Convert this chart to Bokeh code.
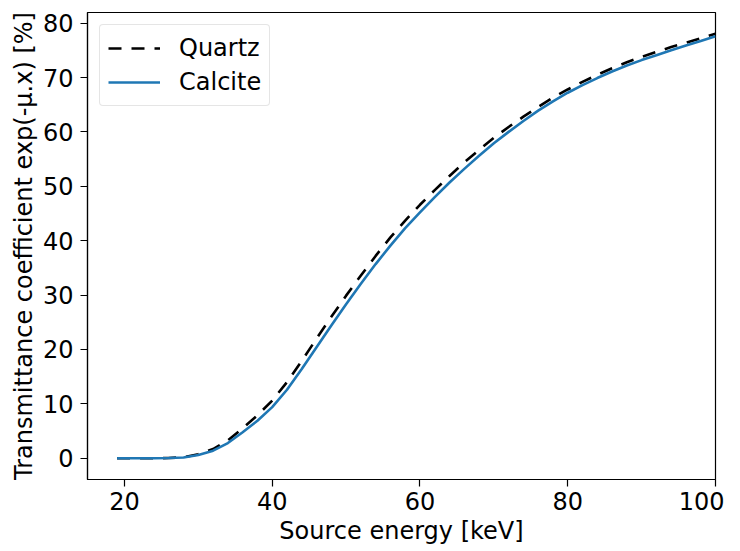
from bokeh.plotting import figure
from bokeh.models import FixedTicker, Range1d, Legend, LegendItem
from bokeh.embed import file_html
from bokeh.resources import INLINE

energy = [19, 20, 22, 24, 26, 28, 30, 32, 34, 36, 38, 40, 42, 44, 46, 48, 50, 52, 54, 56, 58, 60,
          62, 64, 66, 68, 70, 72, 74, 76, 78, 80, 82, 84, 86, 88, 90, 92, 94, 96, 98, 100]
calcite = [0.0, 0.0, 0.0, 0.0, 0.05, 0.15, 0.6, 1.4, 2.8, 4.8, 6.9, 9.4, 12.6, 16.4, 20.4, 24.4,
           28.3, 32.1, 35.7, 39.1, 42.3, 45.2, 48.0, 50.7, 53.2, 55.6, 57.9, 60.0, 62.0, 63.9,
           65.6, 67.2, 68.6, 69.9, 71.1, 72.2, 73.2, 74.1, 75.0, 75.9, 76.7, 77.6]
quartz = [0.0, 0.0, 0.0, 0.0, 0.05, 0.2, 0.75, 1.7, 3.3, 5.5, 7.9, 10.6, 14.0, 17.9, 22.0, 26.0,
          29.9, 33.6, 37.2, 40.6, 43.7, 46.6, 49.3, 51.9, 54.4, 56.7, 58.9, 60.9, 62.8, 64.6,
          66.3, 67.8, 69.2, 70.5, 71.7, 72.8, 73.8, 74.7, 75.6, 76.4, 77.2, 78.05]
x_ticks = [20, 40, 60, 80, 100]
y_ticks = [0, 10, 20, 30, 40, 50, 60, 70, 80]

FONT = "DejaVu Sans"
FS = "24px"

p = figure(width=724, height=551, output_backend="svg", toolbar_location=None,
           x_range=Range1d(15, 100), y_range=Range1d(-3.9, 81.95),
           min_border_left=87, min_border_right=9, min_border_top=12, min_border_bottom=72)

rq = p.line(energy, quartz, line_color="black", line_width=2.6, line_dash="13 10")
rc = p.line(energy, calcite, line_color="#1f77b4", line_width=2.6)

p.xgrid.visible = False
p.ygrid.visible = False
p.outline_line_color = "black"
p.outline_line_width = 1.2

for ax in (p.xaxis[0], p.yaxis[0]):
    ax.major_tick_in = 0
    ax.major_tick_out = 7
    ax.minor_tick_line_color = None
    ax.major_tick_line_width = 1.2
    ax.axis_line_width = 1.2
    ax.major_label_text_font = FONT
    ax.major_label_text_font_size = FS
    ax.major_label_text_color = "black"
    ax.axis_label_text_font = FONT
    ax.axis_label_text_font_size = FS
    ax.axis_label_text_font_style = "normal"
    ax.axis_label_text_color = "black"

p.xaxis[0].major_label_standoff = 5
p.yaxis[0].major_label_standoff = 7
p.xaxis[0].ticker = FixedTicker(ticks=x_ticks)
p.yaxis[0].ticker = FixedTicker(ticks=y_ticks)
p.xaxis[0].axis_label = "Source energy [keV]"
p.yaxis[0].axis_label = "Transmittance coefficient exp(-µ.x) [%]"
p.xaxis[0].axis_label_standoff = 4
p.yaxis[0].axis_label_standoff = 2

legend = Legend(items=[LegendItem(label="Quartz", renderers=[rq]),
                       LegendItem(label="Calcite", renderers=[rc])],
                location="top_left")
legend.margin = 12
legend.padding = 8
legend.spacing = 4
legend.glyph_width = 52
legend.glyph_height = 30
legend.label_height = 30
legend.label_standoff = 19
legend.label_text_font = FONT
legend.label_text_font_size = FS
legend.label_text_color = "black"
legend.border_line_color = "#cccccc"
legend.border_line_width = 1
legend.background_fill_alpha = 0.8
try:
    legend.border_radius = 4
except Exception:
    pass
p.add_layout(legend, "center")

open("out.html", "w").write(file_html(p, INLINE))
